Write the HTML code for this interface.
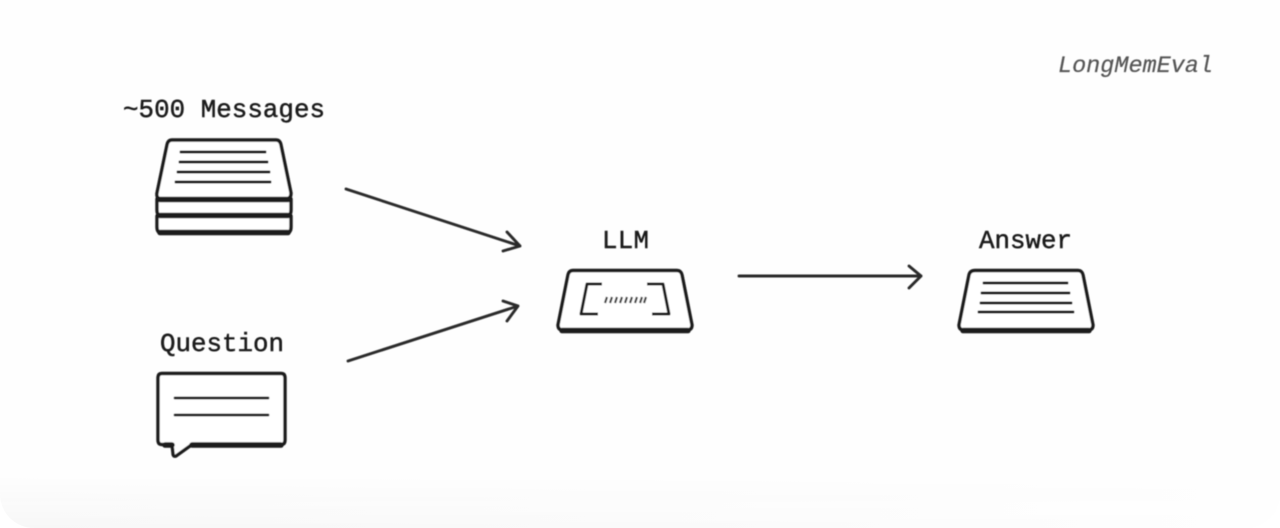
<!DOCTYPE html>
<html lang="en">
<head>
<meta charset="utf-8">
<title>LongMemEval</title>
<style>
html,body{margin:0;padding:0;background:#fff;width:1280px;height:528px;overflow:hidden}
svg{display:block}
text{font-family:"Liberation Mono",monospace;fill:#1a1a1a}
</style>
</head>
<body>
<svg width="1280" height="528" viewBox="0 0 1280 528" xmlns="http://www.w3.org/2000/svg">
<defs>
<linearGradient id="h" x1="0" y1="0" x2="1" y2="0">
<stop offset="0" stop-color="#f7f7f7"/>
<stop offset="0.5" stop-color="#fafafa"/>
<stop offset="1" stop-color="#fefefe"/>
</linearGradient>
<linearGradient id="v" x1="0" y1="0" x2="0" y2="1">
<stop offset="0" stop-color="#000"/>
<stop offset="1" stop-color="#fff"/>
</linearGradient>
<mask id="m" maskUnits="userSpaceOnUse" x="0" y="475" width="1280" height="53">
<rect x="0" y="475" width="1280" height="53" fill="url(#v)"/>
</mask>
<filter id="b" x="-5%" y="-5%" width="110%" height="110%"><feGaussianBlur stdDeviation="0.5"/></filter>
</defs>
<rect width="1280" height="528" fill="#fff"/>
<rect x="0" y="-40" width="1280" height="568" rx="34" fill="#fefefe"/>
<rect x="0" y="-40" width="1280" height="568" rx="34" fill="url(#h)" mask="url(#m)"/>
<g filter="url(#b)">
<text x="123" y="117" font-size="25.8" textLength="202" stroke="#1a1a1a" stroke-width="0.45">~500 Messages</text>
<text x="160" y="351" font-size="25.8" textLength="124" stroke="#1a1a1a" stroke-width="0.45">Question</text>
<text x="602" y="248" font-size="25.8" textLength="47" stroke="#1a1a1a" stroke-width="0.45">LLM</text>
<text x="979" y="248" font-size="25.8" textLength="93" stroke="#1a1a1a" stroke-width="0.45">Answer</text>
<text x="1058" y="72" font-size="23.5" font-style="italic" textLength="155" stroke="#555" stroke-width="0.2" style="fill:#555">LongMemEval</text>

<g fill="none" stroke="#1a1a1a" stroke-linecap="round" stroke-linejoin="round">
<!-- stack -->
<g stroke-width="3.400">
<path d="M157 216 L157 227 Q157 233 162 233 L286 233 Q291 233 291 227 L291 216" fill="#fff"/>
<path d="M157 199 L157 210 Q157 216 162 216 L286 216 Q291 216 291 210 L291 199" fill="#fff"/>
<path d="M172 140 L276 140 Q280 140 281 145 L291 193 Q291 199 286 199 L162 199 Q156 199 157 193 L167 145 Q168 140 172 140 Z" fill="#fff"/>
</g>
<path d="M160 199.500 H288 M160 215.500 H288 M160 232.500 H288" stroke-width="5.500"/>
<path d="M181 152 H265 M180 162 H267 M178 172 H269 M176 182 H270" stroke-width="3"/>

<!-- bubble -->
<path d="M162 373.500 H281 Q285 373.500 285 378 V440 Q285 444.500 281 444.500 H192 L176 456 Q173 457 173 453 L172 444.500 H162 Q158 444.500 158 440 V378 Q158 373.500 162 373.500 Z" fill="#fff" stroke-width="3.400"/>
<path d="M165 445 H172 M192 445 H281" stroke-width="5.500"/>
<path d="M175 398 H268 M175 415 H268" stroke-width="2.800"/>

<!-- LLM -->
<path d="M573 270.500 H677 Q681 270.500 682 275 L692 325 Q692 330 687 330 H563 Q558 330 558 325 L568 275 Q569 270.500 573 270.500 Z" fill="#fff" stroke-width="3.400"/>
<path d="M562 330.500 H688" stroke-width="5.500"/>
<path d="M602 284 H587 L581 314 H598 M647 284 H663 L669 314 H652" stroke-width="3" stroke-linecap="butt"/>
<path d="M605 303 L607 297 M610 303 L612 297 M615 303 L617 297 M620 303 L622 297 M625 303 L627 297 M630 303 L632 297 M635 303 L637 297 M640 303 L642 297 M644 303 L646 297" stroke-width="2.200" stroke="#444" stroke-linecap="butt"/>

<!-- Answer -->
<path d="M975 270.500 H1078 Q1082 270.500 1083 275 L1093 325 Q1093 330 1088 330 H964 Q959 330 959 325 L969 275 Q970 270.500 975 270.500 Z" fill="#fff" stroke-width="3.400"/>
<path d="M963 330.500 H1089" stroke-width="5.500"/>
<path d="M984 283 H1067 M982 293 H1069 M981 303 H1071 M979 312 H1073" stroke-width="3"/>

<!-- arrows -->
<g stroke="#2a2a2a" stroke-width="2.900">
<path d="M346 189 L520 246 M507 232 L520 246 L503 251"/>
<path d="M348 361 L518 306 M503 301 L518 306 L507 321"/>
<path d="M739 276 H921 M909 266 L921 276 L909 288"/>
</g>
</g>
</g>
</svg>
</body>
</html>
